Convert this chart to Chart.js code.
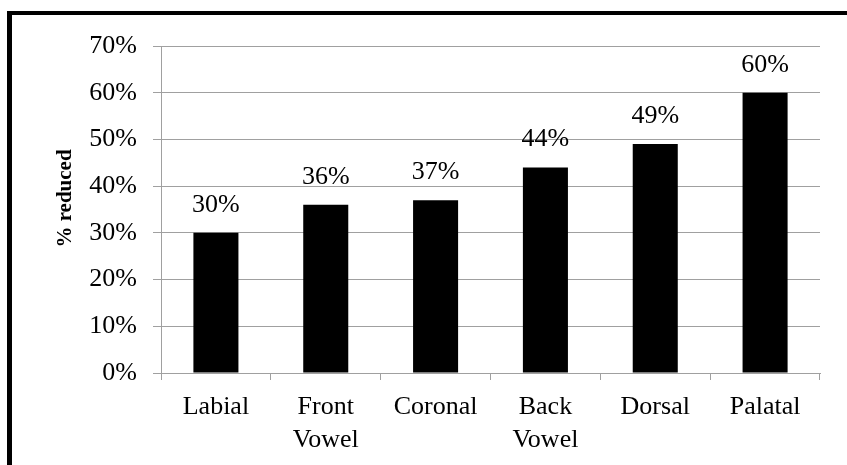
<!DOCTYPE html>
<html>
<head>
<meta charset="utf-8">
<script src="https://cdn.jsdelivr.net/npm/chart.js@4"></script>
<style>
  html, body { margin: 0; padding: 0; background: #fff; overflow: hidden; }
  #frame {
    position: absolute; left: 7px; top: 11px; width: 900px; height: 520px;
    border-left: 5px solid #000; border-top: 4px solid #000; box-sizing: border-box;
  }
  #c { position: absolute; left: 0; top: 0; }
</style>
</head>
<body>
<div id="frame"></div>
<canvas id="c" width="847" height="465"></canvas>
<script>
// Share of tokens reduced, by place of articulation
const categories = [["Labial"], ["Front", "Vowel"], ["Coronal"], ["Back", "Vowel"], ["Dorsal"], ["Palatal"]];
const reducedPct = [30, 36, 37, 44, 49, 60];
const yTicks = [0, 10, 20, 30, 40, 50, 60, 70];
const yTitle = "% reduced";

const FONT = '"Liberation Serif", "Times New Roman", serif';
const GRID = '#a0a0a0';

// Percentage printed above each bar
const barLabels = {
  id: 'barLabels',
  afterDatasetsDraw(chart) {
    const { ctx } = chart;
    const meta = chart.getDatasetMeta(0);
    ctx.save();
    ctx.font = '26px ' + FONT;
    ctx.fillStyle = '#000';
    ctx.textAlign = 'center';
    ctx.textBaseline = 'alphabetic';
    meta.data.forEach((bar, i) => {
      ctx.fillText(reducedPct[i] + '%', bar.x, bar.y - 21);
    });
    ctx.restore();
  }
};

// Rotated bold y-axis title
const axisTitle = {
  id: 'axisTitle',
  afterDraw(chart) {
    const { ctx, chartArea } = chart;
    ctx.save();
    ctx.translate(66, (chartArea.top + chartArea.bottom) / 2 - 11);
    ctx.rotate(-Math.PI / 2);
    ctx.font = 'bold 21px ' + FONT;
    ctx.fillStyle = '#000';
    ctx.textAlign = 'center';
    ctx.textBaseline = 'middle';
    ctx.fillText(yTitle, 0, 0);
    ctx.restore();
  }
};

function draw() {
  new Chart(document.getElementById('c'), {
    type: 'bar',
    data: {
      labels: categories,
      datasets: [{
        data: reducedPct,
        backgroundColor: '#000',
        borderWidth: 0,
        categoryPercentage: 1,
        barPercentage: 0.41
      }]
    },
    options: {
      responsive: false,
      animation: false,
      devicePixelRatio: 1,
      layout: { padding: { left: 0, top: 46, right: 27, bottom: 0 } },
      plugins: { legend: { display: false }, tooltip: { enabled: false }, title: { display: false } },
      scales: {
        x: {
          grid: { display: true, drawOnChartArea: false, drawTicks: true, tickLength: 7, color: GRID, lineWidth: 1 },
          border: { display: true, color: GRID, width: 1 },
          ticks: { color: '#000', font: { family: FONT, size: 26, lineHeight: 1.25 }, padding: 11, maxRotation: 0, autoSkip: false },
          afterFit(s) { s.height = 92; }
        },
        y: {
          min: 0, max: 70,
          afterBuildTicks(s) { s.ticks = yTicks.map(v => ({ value: v })); },
          grid: { color: GRID, lineWidth: 1, drawTicks: true, tickLength: 8 },
          border: { display: true, color: GRID, width: 1 },
          ticks: { color: '#000', font: { family: FONT, size: 26 }, padding: 16, callback: v => v + '%' },
          afterFit(s) { s.width = 161; }
        }
      }
    },
    plugins: [barLabels, axisTitle]
  });
}

const fontLoads = [document.fonts.load('26px "Liberation Serif"'), document.fonts.load('bold 21px "Liberation Serif"')];
Promise.all(fontLoads).then(draw, draw);
</script>
</body>
</html>
